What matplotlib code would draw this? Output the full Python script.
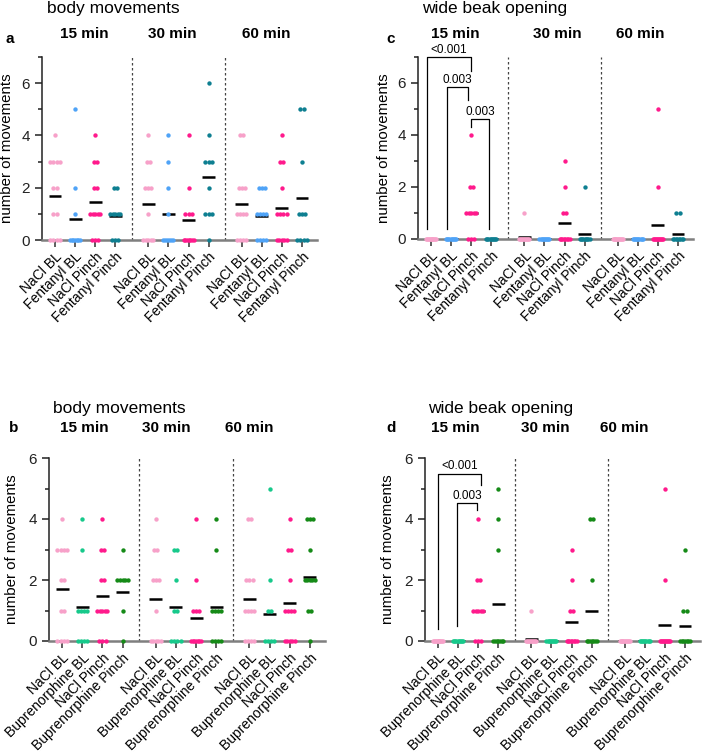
import numpy as np
import matplotlib.pyplot as plt
from matplotlib.ticker import MultipleLocator

plt.rcParams['font.family'] = ['Liberation Sans', 'DejaVu Sans']

times = ["15 min", "30 min", "60 min"]
fent_groups = ["NaCl BL", "Fentanyl BL", "NaCl Pinch", "Fentanyl Pinch"]
bup_groups = ["NaCl BL", "Buprenorphine BL", "NaCl Pinch", "Buprenorphine Pinch"]
fent_colors = ["#f7a1c9", "#4fa3f7", "#ff1a8c", "#0e7f91"]
bup_colors = ["#f7a1c9", "#17c98b", "#ff1a8c", "#158a17"]

# number of animals at 0, 1, 2, ... movements, per group, per time point
body_fent_counts = [
    [[4, 2, 2, 4, 1], [7, 1, 1, 0, 0, 1], [3, 5, 2, 2, 1], [3, 5, 2]],
    [[5, 1, 3, 2, 1], [6, 1, 1, 1, 1], [7, 3, 1, 0, 1], [1, 3, 1, 3, 1, 0, 1]],
    [[4, 4, 3, 0, 2], [4, 4, 3], [5, 4, 1, 2, 1], [4, 3, 0, 1, 0, 2]],
]
body_fent_means = [[1.69, 0.81, 1.47, 0.9], [1.38, 1.0, 0.77, 2.41], [1.38, 0.9, 1.23, 1.6]]

body_bup_counts = [
    [[4, 2, 2, 4, 1], [4, 4, 0, 1, 1], [3, 5, 2, 2, 1], [1, 1, 5, 1]],
    [[5, 1, 3, 2, 1], [4, 2, 1, 2], [7, 3, 1, 0, 1], [4, 4, 0, 1, 1]],
    [[4, 4, 3, 0, 2], [4, 2, 1, 0, 0, 1], [5, 4, 1, 2, 1], [1, 2, 5, 1, 3]],
]
body_bup_means = [[1.69, 1.11, 1.46, 1.61], [1.39, 1.11, 0.77, 1.11], [1.39, 0.89, 1.24, 2.1]]

beak_fent_counts = [
    [[12], [10], [3, 5, 2, 0, 1], [10]],
    [[11, 1], [10], [8, 2, 1, 1], [9, 0, 1]],
    [[12], [10], [11, 0, 1, 0, 0, 1], [8, 2]],
]
beak_fent_means = [[0, 0, 1.0, 0], [0.08, 0, 0.62, 0.2], [0, 0, 0.54, 0.2]]

beak_bup_counts = [
    [[12], [10], [3, 5, 2, 0, 1], [7, 0, 0, 1, 1, 1]],
    [[11, 1], [10], [8, 2, 1, 1], [7, 0, 1, 0, 2]],
    [[12], [10], [11, 0, 1, 0, 0, 1], [7, 2, 0, 1]],
]
beak_bup_means = [[0, 0, 1.0, 1.2], [0.08, 0, 0.62, 1.0], [0, 0, 0.54, 0.49]]

# significance brackets: (x left, x right, y top, left bottom, right bottom, label)
beak_fent_sig = [(-0.2, 2.0, 7.0, 0.4, 6.45, "<0.001"),
                 (0.8, 1.85, 5.85, 0.4, 5.33, "0.003"),
                 (2.0, 2.9, 4.63, 4.3, 0.4, "0.003")]
beak_bup_sig = [(0.0, 2.14, 5.49, 0.4, 5.1, "<0.001"),
                (0.95, 1.94, 4.51, 0.5, 4.3, "0.003")]

W, H = 703, 754
fig = plt.figure(figsize=(W / 100, H / 100), dpi=100)

time_gap = 4.65


def px(x, y):
    return x / W, 1 - y / H


def offsets(n, step=0.155, maxspan=0.5):
    if n <= 1:
        return np.zeros(n)
    sp = min(step, maxspan / (n - 1))
    return (np.arange(n) - (n - 1) / 2) * sp


def panel(rect, counts, means, groups, colors, ytop, sig=None):
    ax = fig.add_axes(rect)
    ticks = []
    for ti in range(3):
        for gi in range(4):
            x0 = ti * time_gap + gi
            ticks.append(x0)
            for v, c in enumerate(counts[ti][gi]):
                if c:
                    ax.scatter(x0 + offsets(c), np.full(c, v), s=10, color=colors[gi],
                               lw=0, zorder=4, clip_on=False)
            ax.hlines(means[ti][gi], x0 - 0.32, x0 + 0.32, color="black", lw=1.8, zorder=3)
    for sx in [3 + (time_gap - 3) / 2, 3 + time_gap + (time_gap - 3) / 2]:
        ax.vlines(sx, 0, ytop, color="#444444", lw=0.9, linestyles=(0, (2, 2)))
    if sig:
        for xl, xr, yt, yl, yr, lab in sig:
            ax.plot([xl, xl, xr, xr], [yl, yt, yt, yr], color="black", lw=0.9, clip_on=False)
            ax.text((xl + xr) / 2, yt + 0.04, lab, ha="center", va="bottom", fontsize=8.5)
    ax.set_xlim(-0.65, 13.05)
    ax.set_ylim(0, ytop)
    ax.set_xticks(ticks)
    ax.set_xticklabels(groups * 3, rotation=45, ha="right", rotation_mode="anchor", fontsize=10)
    ax.yaxis.set_major_locator(MultipleLocator(2))
    ax.yaxis.set_minor_locator(MultipleLocator(1))
    ax.tick_params(axis="y", which="major", length=5, width=1.1, labelsize=11, colors="#222222")
    ax.tick_params(axis="y", which="minor", length=3, width=1.1, colors="#222222")
    ax.tick_params(axis="x", length=5, width=1.1, colors="#333333", labelcolor="black", pad=2)
    for s in ["top", "right"]:
        ax.spines[s].set_visible(False)
    ax.spines["left"].set_color("#222222")
    ax.spines["left"].set_linewidth(1.1)
    ax.spines["bottom"].set_color("#7f7f7f")
    ax.spines["bottom"].set_linewidth(1.8)
    ax.set_ylabel("number of movements", fontsize=10.8)
    return ax


ax_a = panel([42 / W, 1 - 240 / H, 275 / W, 183 / H], body_fent_counts, body_fent_means,
             fent_groups, fent_colors, 7)
ax_a.yaxis.set_label_coords(-0.1, 0.5)
ax_c = panel([418 / W, 1 - 239 / H, 275 / W, 182 / H], beak_fent_counts, beak_fent_means,
             fent_groups, fent_colors, 7, beak_fent_sig)
ax_c.yaxis.set_label_coords(-0.1, 0.5)
ax_b = panel([49 / W, 1 - 641 / H, 276 / W, 183 / H], body_bup_counts, body_bup_means,
             bup_groups, bup_colors, 6)
ax_b.yaxis.set_label_coords(-0.11, 0.5)
ax_d = panel([425 / W, 1 - 641 / H, 275 / W, 183 / H], beak_bup_counts, beak_bup_means,
             bup_groups, bup_colors, 6, beak_bup_sig)
ax_d.yaxis.set_label_coords(-0.11, 0.5)

# headers
headers = [
    ("body movements", 47, 8, "a", 10, 39, [84, 172, 266], 34),
    ("wide beak opening", 422, 8, "c", 391, 39, [455, 557, 640], 34),
    ("body movements", 53, 409, "b", 14, 428, [84, 166, 249], 428),
    ("wide beak opening", 428, 409, "d", 391, 428, [455, 545, 624], 428),
]
for title, tx, ty, letter, lx, ly, cx, cy in headers:
    fig.text(*px(tx, ty), title, ha="left", va="center", fontsize=12.5)
    fig.text(*px(lx, ly), letter, ha="center", va="center", fontsize=11, fontweight="bold")
    for t, x in zip(times, cx):
        fig.text(*px(x, cy), t, ha="center", va="center", fontsize=11, fontweight="bold")

fig.savefig("out.png", dpi=100)
